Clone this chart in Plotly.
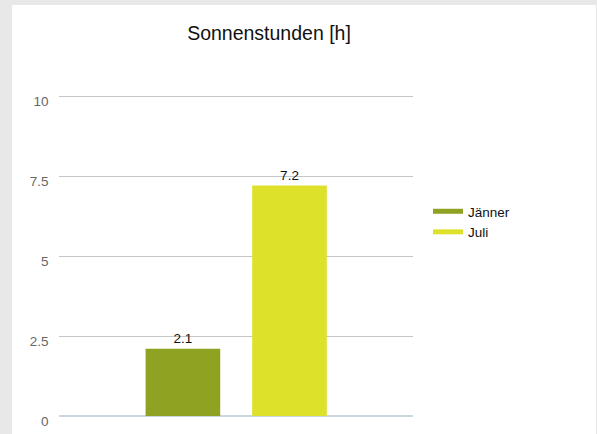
import plotly.graph_objects as go

series_names = ["Jänner", "Juli"]
series_values = [2.1, 7.2]
series_colors = ["#8fa222", "#dde12a"]
category = [""]
tick_vals = [0, 2.5, 5, 7.5, 10]
tick_text = ["0", "2.5", "5", "7.5", "10"]

W, H = 597, 434
L, R, B = 58, 184, 18
PX_PER_UNIT = 32.0
Y_TOP = 10.25
T = H - B - PX_PER_UNIT * Y_TOP

fig = go.Figure()
for name, val, col in zip(series_names, series_values, series_colors):
    fig.add_trace(go.Bar(
        x=category, y=[val], name=name, marker=dict(color=col, line=dict(width=0)),
        text=[f"{val:g}"], textposition="outside", cliponaxis=False,
        textfont=dict(color="#111111", size=13.5, family="Liberation Sans, Arial, sans-serif"),
        showlegend=False,
    ))
    fig.add_trace(go.Scatter(
        x=[None], y=[None], mode="lines", name=name,
        line=dict(color=col, width=5), showlegend=True,
    ))

pw = W - L - R
ph = H - T - B
fig.add_shape(type="rect", xref="paper", yref="paper",
              x0=(12 - L) / pw, x1=(596 - L) / pw,
              y0=-0.2, y1=(H - B - 5) / ph,
              fillcolor="white", line=dict(width=0), layer="below")

fig.update_layout(
    width=W, height=H,
    margin=dict(l=L, r=R, t=T, b=B, autoexpand=False),
    paper_bgcolor="#e8e8e8",
    plot_bgcolor="white",
    font=dict(family="Liberation Sans, Arial, sans-serif", color="#555555", size=12),
    title=dict(text="Sonnenstunden [h]", x=269 / W, xref="container", xanchor="center",
               y=1 - 33 / H, yref="container", yanchor="middle",
               font=dict(size=19.5, color="#111111")),
    barmode="group", bargap=0.397, bargroupgap=0.3,
    showlegend=True,
    legend=dict(x=(428 - L) / pw, xanchor="left", y=(H - B - 196) / ph, yanchor="top",
                bgcolor="rgba(0,0,0,0)", font=dict(size=13.5, color="#111111"),
                tracegroupgap=0, itemwidth=30),
    xaxis=dict(showticklabels=False, showgrid=False, zeroline=False, showline=False,
               fixedrange=True, domain=[0.004, 1]),
    yaxis=dict(range=[0, Y_TOP], tickvals=tick_vals, ticktext=tick_text,
               showgrid=True, gridcolor="#c6c6c6", gridwidth=1,
               zeroline=True, zerolinecolor="#cbd7dd", zerolinewidth=2,
               showline=False, ticks="", ticklabelstandoff=10, ticklabelshift=5,
               tickfont=dict(size=13.5, color="#666666")),
)

fig.write_html("out.html", config={"displayModeBar": False},
               post_script="document.body.style.margin='0';")
